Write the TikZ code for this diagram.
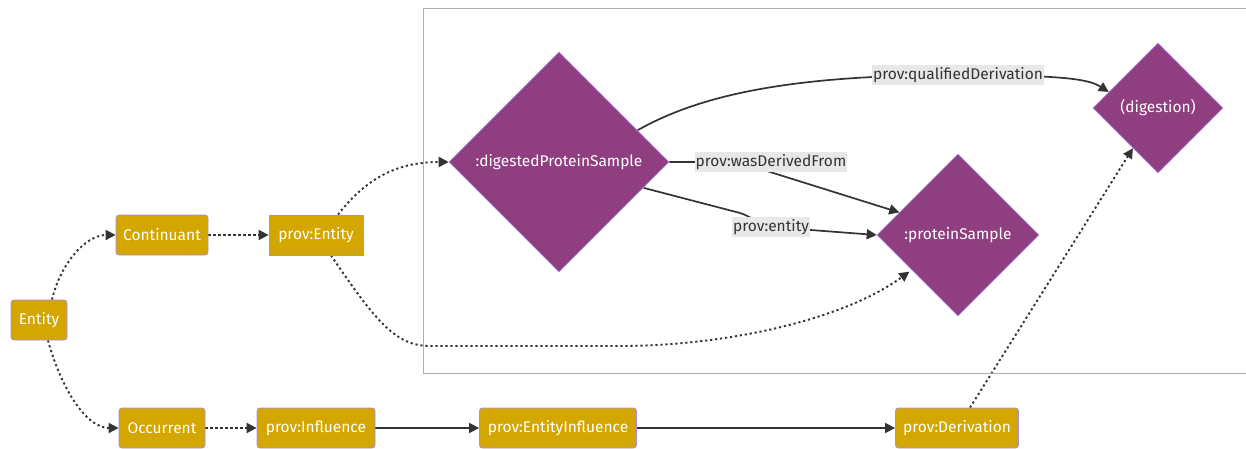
\documentclass[tikz,border=0pt]{standalone}
\usepackage{fontspec}
\setmainfont{Fira Sans}
\usetikzlibrary{shapes.geometric,arrows.meta}
\definecolor{gold}{RGB}{212,166,0}
\definecolor{bord}{RGB}{170,140,230}
\definecolor{plum}{RGB}{143,63,128}
\definecolor{edgec}{RGB}{51,51,51}
\definecolor{lblbg}{RGB}{232,232,232}
\definecolor{clus}{RGB}{175,175,175}
\pgfdeclarelayer{bg}
\pgfsetlayers{bg,main}
\begin{document}
\begin{tikzpicture}[x=1pt,y=-1pt,
  box/.style={draw=bord,fill=gold,line width=0.8pt,rounded corners=3pt,minimum height=40pt,inner sep=0pt,text=white,font=\fontsize{15.5}{18}\selectfont},
  sqbox/.style={box,rounded corners=0pt},
  dia/.style={diamond,aspect=1,draw=bord,fill=plum,line width=0.6pt,inner sep=0pt,text=white,font=\fontsize{15.5}{18}\selectfont},
  lbl/.style={fill=lblbg,text=edgec,inner xsep=1pt,inner ysep=0pt,minimum height=20pt,font=\fontsize{15.5}{18}\selectfont},
  link/.style={draw=edgec,line width=1.7pt,-{Triangle[length=10pt,width=10pt]}},
  dot/.style={link,line width=1.9pt,dash pattern=on 2.2pt off 2.8pt}
]
\useasboundingbox (0,0) rectangle (1246,449);
% cluster frame
\draw[clus,line width=1pt] (1250,9) -| (423,373) -- (1250,373);
% nodes
\node[box,minimum width=56pt] (ent) at (39,320) {Entity};
\node[box,minimum width=92pt] (cont) at (162,235) {Continuant};
\node[sqbox,minimum width=94pt] (pent) at (316,235) {prov:Entity};
\node[box,minimum width=86pt] (occ) at (162,428) {Occurrent};
\node[box,minimum width=118pt] (pinf) at (316,428) {prov:Influence};
\node[box,minimum width=157pt] (pei) at (558,428) {prov:EntityInfluence};
\node[box,minimum width=123pt] (pder) at (957,428) {prov:Derivation};
\node[dia,minimum width=220pt,minimum height=220pt] (dps) at (559,162) {:digestedProteinSample};
\node[dia,minimum width=162pt,minimum height=162pt] (ps) at (958,235) {:proteinSample};
\node[dia,minimum width=130pt,minimum height=130pt] (dig) at (1158,108) {(digestion)};
% edge labels
\node[lbl] (qd) at (958,75) {prov:qualifiedDerivation};
\node[lbl] (wdf) at (771,162) {prov:wasDerivedFrom};
\node[lbl] (pe) at (771,227) {prov:entity};
% edges
\begin{pgfonlayer}{bg}
\draw[dot] ([xshift=13pt]ent.north) .. controls (60,265) and (85,235) .. (cont.west);
\draw[dot] ([xshift=9pt]ent.south) .. controls (60,385) and (85,428) .. (occ.west);
\draw[dot] (cont.east) -- (pent.west);
\draw[dot] (occ.east) -- (pinf.west);
\draw[link] (pinf.east) -- (pei.west);
\draw[link] (pei.east) -- (pder.west);
\draw[dot] ([xshift=22pt]pent.north) .. controls (365,180) and (395,162) .. (dps.west);
\draw[dot] ([xshift=15pt]pent.south) .. controls (375,320) and (395,346) .. (430,346) -- (620,346) .. controls (720,346) and (840,322) .. ([xshift=-8pt,yshift=4pt]ps.south west);
\draw[dot] ([xshift=13pt]pder.north) -- (dig.238);
\draw[link] (dps.22) .. controls (700,95) and (790,75) .. (qd.center) .. controls (1070,75) and (1090,80) .. (dig.162);
\draw[link] (dps.east) -- (730,162) .. controls (745,162) and (755,167) .. (770,172) -- (ps.159);
\draw[link] (dps.-17) -- (740,213) .. controls (755,218) and (760,226) .. (pe.center) -- (ps.west);
\end{pgfonlayer}
\end{tikzpicture}
\end{document}
